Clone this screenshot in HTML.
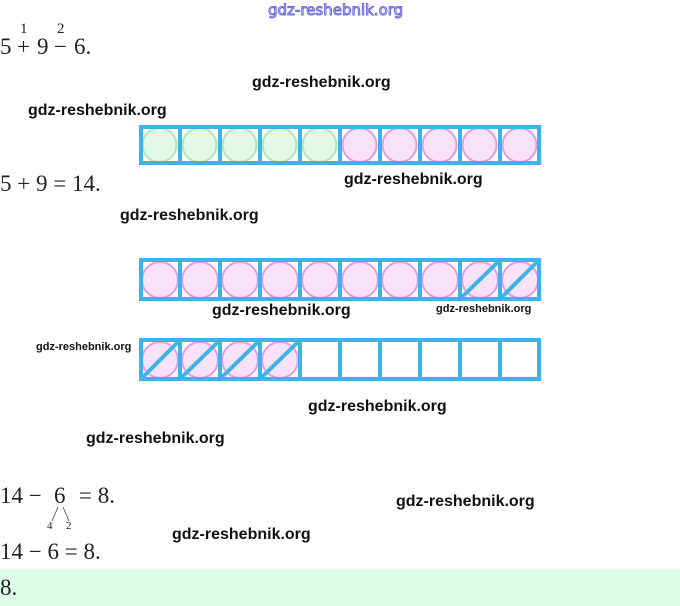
<!DOCTYPE html>
<html><head><meta charset="utf-8"><style>
html,body{margin:0;padding:0;background:#fff;width:680px;height:606px;overflow:hidden;position:relative}
.t{position:absolute;white-space:nowrap;line-height:1}
.m{font-family:"Liberation Serif",serif;color:#222;font-size:23px}
.w{font-family:"Liberation Sans",sans-serif;color:#111;font-size:16px;font-weight:bold}
.ws{font-family:"Liberation Sans",sans-serif;color:#111;font-size:11px;font-weight:bold}
</style></head><body>
<div style="position:absolute;left:0;top:569px;width:680px;height:37px;background:#e0fbea"></div>
<div class="t" style="left:268px;top:3px;font-family:'DejaVu Sans',sans-serif;font-size:15px;color:#fff;-webkit-text-stroke:1px #6a6ae0">gdz-reshebnik.org</div>

<div class="t m" style="left:0;top:35px">5</div>
<div class="t m" style="left:17px;top:35px">+</div>
<div class="t m" style="left:20px;top:22px;font-size:15px">1</div>
<div class="t m" style="left:37px;top:35px">9</div>
<div class="t m" style="left:54px;top:35px">−</div>
<div class="t m" style="left:57px;top:22px;font-size:15px">2</div>
<div class="t m" style="left:74px;top:35px">6.</div>

<div class="t w" style="left:252px;top:75px">gdz-reshebnik.org</div>
<div class="t w" style="left:28px;top:103px">gdz-reshebnik.org</div>
<div class="t m" style="left:0;top:172px">5 + 9 = 14.</div>
<div class="t w" style="left:344px;top:172px">gdz-reshebnik.org</div>
<div class="t w" style="left:120px;top:208px">gdz-reshebnik.org</div>
<div class="t w" style="left:212px;top:303px">gdz-reshebnik.org</div>
<div class="t ws" style="left:436px;top:304px">gdz-reshebnik.org</div>
<div class="t ws" style="left:36px;top:342px">gdz-reshebnik.org</div>
<div class="t w" style="left:308px;top:399px">gdz-reshebnik.org</div>
<div class="t w" style="left:86px;top:431px">gdz-reshebnik.org</div>
<div class="t m" style="left:0;top:484px">14 −</div>
<div class="t m" style="left:54px;top:484px">6</div>
<div class="t m" style="left:79px;top:484px">= 8.</div>
<svg style="position:absolute;left:0;top:0" width="680" height="606">
<line x1="58" y1="507" x2="52" y2="521" stroke="#444" stroke-width="0.8"/>
<line x1="63" y1="507" x2="69" y2="521" stroke="#444" stroke-width="0.8"/>
</svg>
<div class="t m" style="left:47px;top:521px;font-size:11px">4</div>
<div class="t m" style="left:66px;top:521px;font-size:11px">2</div>
<div class="t w" style="left:396px;top:494px">gdz-reshebnik.org</div>
<div class="t w" style="left:172px;top:527px">gdz-reshebnik.org</div>
<div class="t m" style="left:0;top:540px">14 − 6 = 8.</div>
<div class="t m" style="left:0;top:576px">8.</div>

<svg style="position:absolute;left:0;top:0" width="680" height="606">
<g stroke-width="2">
<circle cx="159.5" cy="145" r="17" fill="#e3f8e6" stroke="#aee8b4"/>
<circle cx="199.5" cy="145" r="17" fill="#e3f8e6" stroke="#aee8b4"/>
<circle cx="239.5" cy="145" r="17" fill="#e3f8e6" stroke="#aee8b4"/>
<circle cx="279.5" cy="145" r="17" fill="#e3f8e6" stroke="#aee8b4"/>
<circle cx="319.5" cy="145" r="17" fill="#e3f8e6" stroke="#aee8b4"/>
<circle cx="359.5" cy="145" r="17" fill="#f8e2f8" stroke="#e49ae4"/>
<circle cx="399.5" cy="145" r="17" fill="#f8e2f8" stroke="#e49ae4"/>
<circle cx="439.5" cy="145" r="17" fill="#f8e2f8" stroke="#e49ae4"/>
<circle cx="479.5" cy="145" r="17" fill="#f8e2f8" stroke="#e49ae4"/>
<circle cx="519.5" cy="145" r="17" fill="#f8e2f8" stroke="#e49ae4"/>
</g>
<g stroke="#3cb4ea" stroke-width="4" fill="none">
<rect x="141" y="127" width="398" height="36"/>
<path d="M180 127V163M220 127V163M260 127V163M300 127V163M340 127V163M380 127V163M420 127V163M460 127V163M500 127V163"/>
</g>
<g stroke-width="2" fill="#f8e2f8" stroke="#e49ae4">
<circle cx="160" cy="280" r="18"/><circle cx="200" cy="280" r="18"/><circle cx="240" cy="280" r="18"/><circle cx="280" cy="280" r="18"/><circle cx="320" cy="280" r="18"/><circle cx="360" cy="280" r="18"/><circle cx="400" cy="280" r="18"/><circle cx="440" cy="280" r="18"/><circle cx="480" cy="280" r="18"/><circle cx="520" cy="280" r="18"/>
</g>
<g stroke="#3cb4ea" stroke-width="4" fill="none">
<rect x="141" y="260" width="398" height="39"/>
<path d="M180 260V299M220 260V299M260 260V299M300 260V299M340 260V299M380 260V299M420 260V299M460 260V299M500 260V299"/>
<path d="M460 299L500 260M500 299L539 260"/>
</g>
<g stroke-width="2" fill="#f8e2f8" stroke="#e49ae4">
<circle cx="160" cy="360" r="18"/><circle cx="200" cy="360" r="18"/><circle cx="240" cy="360" r="18"/><circle cx="280" cy="360" r="18"/>
</g>
<g stroke="#3cb4ea" stroke-width="4" fill="none">
<rect x="141" y="340" width="398" height="39"/>
<path d="M180 340V379M220 340V379M260 340V379M300 340V379M340 340V379M380 340V379M420 340V379M460 340V379M500 340V379"/>
<path d="M141 379L180 340M180 379L220 340M220 379L260 340M260 379L300 340"/>
</g>
</svg>
</body></html>
